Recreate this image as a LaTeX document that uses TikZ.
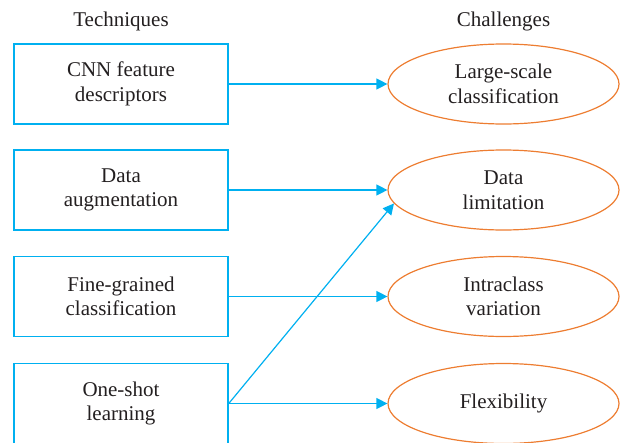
\documentclass[tikz,border=0pt]{standalone}
\usepackage{fontspec}
\setmainfont{Liberation Serif}
\usetikzlibrary{arrows.meta,shapes.geometric}
\definecolor{techblue}{RGB}{0,176,240}
\definecolor{chalorange}{RGB}{237,125,49}
\definecolor{txtgray}{RGB}{35,31,32}

\begin{document}
\begin{tikzpicture}[x=1pt, y=-1pt,
    every node/.style={text=txtgray, font=\fontsize{21}{24.5}\selectfont},
    tech/.style={draw=techblue, line width=1.5pt, minimum width=214pt, minimum height=80pt, align=center, inner sep=0pt},
    chal/.style={ellipse, draw=chalorange, line width=1.2pt, minimum width=231pt, minimum height=80pt, align=center, inner sep=0pt},
    link/.style={draw=techblue, line width=1.2pt, -{Triangle[length=11pt,width=11pt]}}]
  \useasboundingbox (0,0) rectangle (621,442);
  \node (techhead) at (121,21) {Techniques};
  \node (chalhead) at (503.5,21) {Challenges};
  % techniques
  \node[tech] (cnn) at (121,84) {CNN feature\\descriptors};
  \node[tech] (aug) at (121,190) {Data\\augmentation};
  \node[tech] (fine) at (121,296.5) {Fine-grained\\classification};
  \node[tech] (shot) at (121,403.5) {One-shot\\learning};
  % challenges
  \node[chal] (large) at (503.5,84) {Large-scale\\classification};
  \node[chal] (limit) at (503.5,190) {Data\\limitation};
  \node[chal] (intra) at (503.5,296.5) {Intraclass\\variation};
  \node[chal] (flex) at (503.5,403.5) {Flexibility};
  \draw[link] (cnn.east) -- (large.west);
  \draw[link] (aug.east) -- (limit.west);
  \draw[link] (fine.east) -- (intra.west);
  \draw[link] (shot.east) -- (flex.west);
  \draw[link] (shot.east) -- (limit.187);
\end{tikzpicture}
\end{document}
